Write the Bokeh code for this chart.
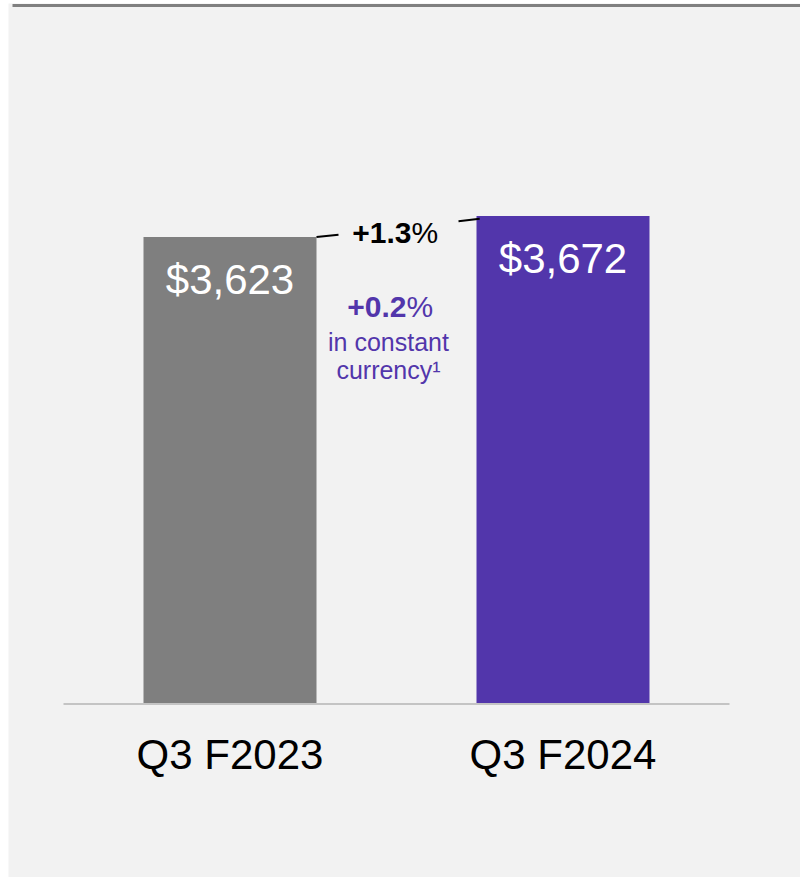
from bokeh.plotting import figure
from bokeh.models import Range1d
from bokeh.core.properties import value
from bokeh.embed import file_html
from bokeh.resources import INLINE

# ---- data ----
periods = ["Q3 F2023", "Q3 F2024"]
revenue = [3623, 3672]
value_labels = ["$3,623", "$3,672"]
bar_colors = ["#7f7f7f", "#5236ab"]
growth_reported = "+1.3"
growth_cc = "+0.2"
cc_lines = ["in constant", "currency\u00b9"]
axis_floor = 2536  # bars start here (truncated axis)

# ---- layout ----
W, H = 800, 877
LEFT, TOP = 8, 3
FW, FH = W - LEFT, H - TOP
PX_PER_CAT = 333.0
PX_PER_UNIT = 0.4286
first_center_px = 221.5   # in frame
baseline_px = 699.5       # from top of frame

x_start = -first_center_px / PX_PER_CAT
x_end = x_start + FW / PX_PER_CAT
y_start = axis_floor - (FH - baseline_px) / PX_PER_UNIT
y_end = axis_floor + baseline_px / PX_PER_UNIT

FONT = value("Liberation Sans")
PURPLE = "#5236ab"

p = figure(width=W, height=H, output_backend="svg", toolbar_location=None,
           x_range=Range1d(x_start, x_end), y_range=Range1d(y_start, y_end),
           min_border=0, min_border_left=LEFT, min_border_top=TOP,
           outline_line_color=None,
           background_fill_color="#f2f2f2", border_fill_color="white")
p.axis.visible = False
p.grid.visible = False

xs = list(range(len(periods)))
bar_w = 173.0 / PX_PER_CAT

# top rule
top_y = y_end - 2.0 / PX_PER_UNIT
p.line(x=[x_start + 4 / PX_PER_CAT, x_end], y=[top_y, top_y], line_color="#808080", line_width=3)

# baseline
p.line(x=[xs[0] - 0.5, xs[-1] + 0.5], y=[axis_floor - 1 / PX_PER_UNIT] * 2,
       line_color="#c4c4c4", line_width=2)

# bars
p.vbar(x=xs, top=revenue, bottom=axis_floor, width=bar_w, fill_color=bar_colors, line_color=None)

# value labels inside bars
p.text(x=xs, y=revenue, text=value_labels, y_offset=42, text_align="center",
       text_baseline="alphabetic", text_font=FONT, text_font_size="42px", text_color="white")

# category labels
p.text(x=xs, y=[axis_floor] * len(xs), text=periods, y_offset=51, text_align="center",
       text_baseline="alphabetic", text_font=FONT, text_font_size="42px", text_color="black")

# connector dashes between bar tops
x0 = xs[0] + bar_w / 2
x1 = xs[1] - bar_w / 2
y0 = revenue[0]
y1 = revenue[1] - 7
def pt(t):
    return x0 + (x1 - x0) * t, y0 + (y1 - y0) * t
for ta, tb in [(0.0, 0.1375), (0.8875, 1.02)]:
    a, b = pt(ta), pt(tb)
    p.line(x=[a[0], b[0]], y=[a[1], b[1]], line_color="black", line_width=2)

# growth annotations
mid_x = (xs[0] + xs[1]) / 2
mid_y = sum(revenue) / len(revenue)

p.text(x=[mid_x], y=[mid_y], text=[growth_reported], x_offset=15, y_offset=6,
       text_align="right", text_baseline="alphabetic", text_font=FONT,
       text_font_size="30px", text_font_style="bold", text_color="black")
p.text(x=[mid_x], y=[mid_y], text=["%"], x_offset=15, y_offset=6,
       text_align="left", text_baseline="alphabetic", text_font=FONT,
       text_font_size="30px", text_color="black")

p.text(x=[mid_x], y=[mid_y], text=[growth_cc], x_offset=10, y_offset=80,
       text_align="right", text_baseline="alphabetic", text_font=FONT,
       text_font_size="30px", text_font_style="bold", text_color=PURPLE)
p.text(x=[mid_x], y=[mid_y], text=["%"], x_offset=10, y_offset=80,
       text_align="left", text_baseline="alphabetic", text_font=FONT,
       text_font_size="30px", text_color=PURPLE)

p.text(x=[mid_x] * 2, y=[mid_y] * 2, text=cc_lines, x_offset=-8, y_offset=[115, 143],
       text_align="center", text_baseline="alphabetic", text_font=FONT,
       text_font_size="25px", text_color=PURPLE)

open("out.html", "w").write(file_html(p, INLINE))
